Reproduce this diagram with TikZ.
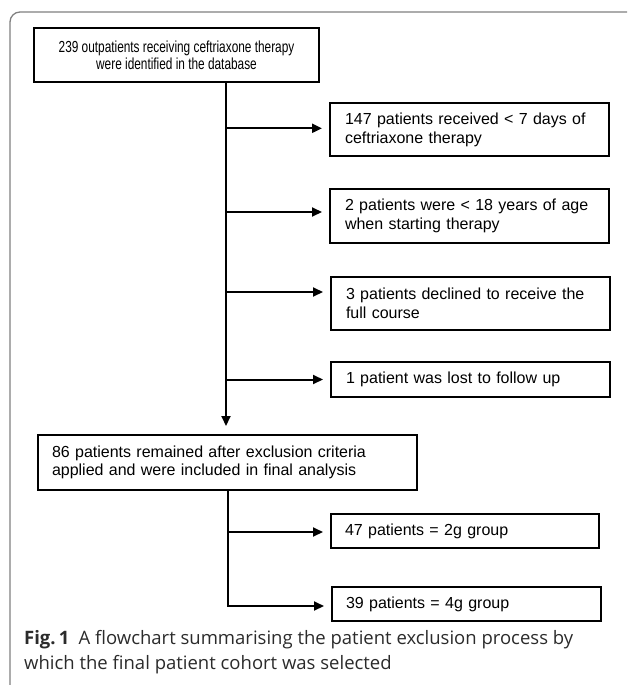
\documentclass[tikz,border=0pt]{standalone}
\usepackage{fontspec}
\setmainfont{Liberation Sans}
\newfontfamily\narrowfont[FakeStretch=0.74]{Liberation Sans}
\newfontfamily\capfont{Open Sans}
\usetikzlibrary{positioning,calc,arrows.meta}
\definecolor{framegray}{HTML}{808080}
\definecolor{captext}{HTML}{2B2B2B}

\begin{document}
\begin{tikzpicture}[x=1pt, y=-1pt,
    box/.style={draw, rectangle, line width=2pt, inner ysep=0pt, inner xsep=15pt, align=left, font=\fontsize{16}{19}\selectfont},
    exbox/.style={box, text width=249pt},
    grpbox/.style={box, inner xsep=14pt, text width=240pt, minimum height=34pt},
    flow/.style={line width=2pt, -{Triangle[length=10pt,width=9pt]}, shorten >=7pt}
  ]
  \useasboundingbox (0,0) rectangle (627,685);
  % frame of the figure
  \draw [framegray, line width=1.3pt, rounded corners=10pt] (10,685) -- (10,12) -- (627,12);

  \node [box, inner xsep=0pt, minimum width=285pt, minimum height=54pt, align=center, font=\narrowfont\fontsize{16}{17}\selectfont] (start) at (176.5,55) {239 outpatients receiving ceftriaxone therapy\\were identified in the database};

  \node [exbox, minimum height=53pt] (ex147) at (469.5,129.5) {147 patients received < 7 days of\\ceftriaxone therapy};
  \node [exbox, minimum height=54pt] (exage) at (469.5,216) {2 patients were < 18 years of age\\when starting therapy};
  \node [exbox, minimum height=53pt] (excourse) at (470.5,303.5) {3 patients declined to receive the\\full course};
  \node [exbox, minimum height=35pt] (exlost) at (470.5,379.5) {1 patient was lost to follow up};

  \node [box, inner xsep=14pt, text width=351pt, minimum height=55pt, font=\fontsize{16}{18}\selectfont] (remain) at (227.5,462.5) {86 patients remained after exclusion criteria\\applied and were included in final analysis};

  \node [grpbox] (twog) at (465,531) {47 patients = 2g group};
  \node [grpbox, text width=241pt] (fourg) at (466.5,604) {39 patients = 4g group};

  \coordinate (trunk) at (226,0);
  \coordinate (split) at (228,0);

  \draw [flow, shorten >=8pt] (start.south -| trunk) -- (remain.north -| trunk);
  \draw [flow] ([yshift=1.2pt]ex147.west -| trunk) -- ([yshift=1.2pt]ex147.west);
  \draw [flow] ([yshift=4pt]exage.west -| trunk) -- ([yshift=4pt]exage.west);
  \draw [flow] ([yshift=11.5pt]excourse.west -| trunk) -- ([yshift=11.5pt]excourse.west);
  \draw [flow] (exlost.west -| trunk) -- (exlost.west);

  \draw [flow] ([yshift=-1pt]twog.west -| split) -- ([yshift=-1pt]twog.west);
  \draw [flow] (remain.south -| split) |- ([yshift=-2pt]fourg.west);

  % caption
  \node [anchor=north west, inner sep=0pt, align=left, text=captext, font=\capfont\fontsize{18.5}{25}\selectfont] (caption) at (24,630) {\textbf{Fig.\,1}\hspace{0.5em}A flowchart summarising the patient exclusion process by\\which the final patient cohort was selected};
\end{tikzpicture}
\end{document}
